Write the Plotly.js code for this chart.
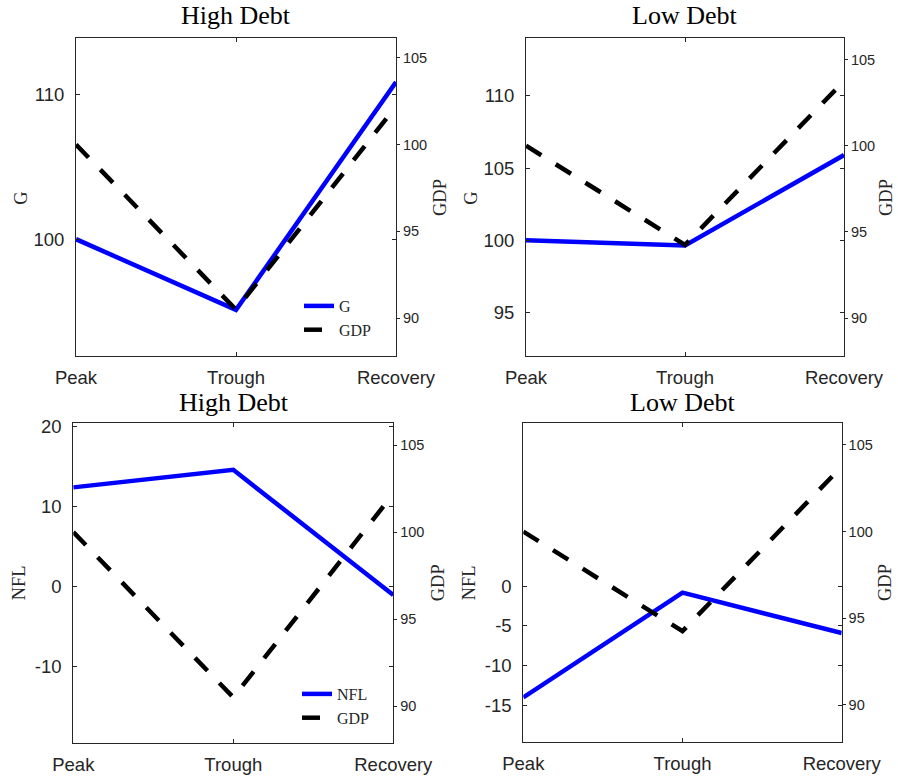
<!DOCTYPE html>
<html>
<head>
<meta charset="utf-8">
<script src="https://cdn.plot.ly/plotly-3.0.1.min.js"></script>
<style>html,body{margin:0;padding:0;background:#fff;}#chart{width:898px;height:779px;}</style>
</head>
<body>
<div id="chart"></div>
<script>
// ---- data ----
const periods = ['Peak', 'Trough', 'Recovery'];
const gHigh = [100, 95.1, 110.9];
const gLow = [100, 99.65, 105.9];
const nflHigh = [12.4, 14.6, -1.1];
const nflLow = [-14.0, -0.8, -5.9];
const gdpHigh = [100, 90.5, 102.2];
const gdpLow = [100, 94.25, 103.75];

const panelTitles = ['High Debt', 'Low Debt', 'High Debt', 'Low Debt'];
const leftTitles = ['G', 'G', 'NFL', 'NFL'];
const rightTitle = 'GDP';
const gTicksHigh = [100, 110];
const gTicksLow = [95, 100, 105, 110];
const nflTicksHigh = [20, 10, 0, -10];
const nflTicksLow = [0, -5, -10, -15];
const gdpTicks = [90, 95, 100, 105];

// ---- layout helpers ----
const W = 898, H = 779;
const px = v => v / W;
const py = v => 1 - v / H;
const BLUE = '#0000ff';
const AXC = '#262626';
const serif = '"Liberation Serif", "DejaVu Serif", serif';
const sans = '"Liberation Sans", Arial, sans-serif';

const panels = [
  {x0: 76, x1: 396, y0: 38, y1: 356, left: gHigh, gdp: gdpHigh, lt: gTicksHigh, lr: [91.9, 113.95], rr: [87.83, 106.13], legend: 'legend'},
  {x0: 526, x1: 844, y0: 38, y1: 356, left: gLow, gdp: gdpLow, lt: gTicksLow, lr: [92, 114], rr: [87.8, 106.25], legend: null},
  {x0: 73.3, x1: 393.3, y0: 423.3, y1: 742.7, left: nflHigh, gdp: gdpHigh, lt: nflTicksHigh, lr: [-19.6, 20.43], rr: [87.9, 106.25], legend: 'legend2'},
  {x0: 523.3, x1: 841.7, y0: 423.3, y1: 742, left: nflLow, gdp: gdpLow, lt: nflTicksLow, lr: [-19.6, 20.5], rr: [87.85, 106.25], legend: null}
];

const data = [];
const layout = {
  width: W, height: H,
  margin: {l: 0, r: 0, t: 0, b: 0},
  paper_bgcolor: '#fff', plot_bgcolor: 'rgba(0,0,0,0)',
  showlegend: true,
  annotations: [],
  legend: {
    x: px(299), y: py(289), xanchor: 'left', yanchor: 'top',
    bgcolor: 'rgba(0,0,0,0)', borderwidth: 0,
    font: {family: serif, size: 16, color: AXC},
    tracegroupgap: 0
  },
  legend2: {
    x: px(297), y: py(677), xanchor: 'left', yanchor: 'top',
    bgcolor: 'rgba(0,0,0,0)', borderwidth: 0,
    font: {family: serif, size: 16, color: AXC},
    tracegroupgap: 0
  }
};

const titleYs = [15, 15, 402, 402];
const titleXs = [236, 684, 233.5, 682.7];
const leftTitleX = [20.7, 470.7, 19.3, 469.3];
const rightTitleX = [440, 886, 438.3, 885];
const axTitleY = [198, 198, 583, 583];

panels.forEach((p, i) => {
  const n = i + 1;
  const xa = 'xaxis' + (n === 1 ? '' : n);
  const ya = 'yaxis' + (2 * n - 1 === 1 ? '' : 2 * n - 1);
  const yb = 'yaxis' + (2 * n);
  const xr = 'x' + (n === 1 ? '' : n);
  const yr1 = 'y' + (2 * n - 1 === 1 ? '' : 2 * n - 1);
  const yr2 = 'y' + (2 * n);

  layout[xa] = {
    domain: [px(p.x0), px(p.x1)], anchor: yr1,
    type: 'category', categoryorder: 'array', categoryarray: periods,
    range: [0, 2], showgrid: false, zeroline: false,
    showline: true, linecolor: AXC, linewidth: 1, mirror: 'ticks',
    ticks: 'inside', ticklen: 4, tickcolor: AXC,
    tickfont: {family: sans, size: 18.5, color: AXC},
    ticklabelstandoff: 5
  };
  layout[ya] = {
    domain: [py(p.y1), py(p.y0)], anchor: xr,
    range: p.lr, showgrid: false, zeroline: false,
    showline: true, linecolor: AXC, linewidth: 1, mirror: 'ticks',
    ticks: 'inside', ticklen: 4, tickcolor: AXC,
    tickmode: 'array', tickvals: p.lt, ticktext: p.lt.map(String),
    tickfont: {family: sans, size: 18.5, color: AXC},
    ticklabelstandoff: 7
  };
  layout[yb] = {
    overlaying: yr1, side: 'right', anchor: xr,
    range: p.rr, showgrid: false, zeroline: false,
    showline: true, linecolor: AXC, linewidth: 1,
    ticks: 'outside', ticklen: 3, tickcolor: AXC,
    tickmode: 'array', tickvals: gdpTicks, ticktext: gdpTicks.map(String),
    tickfont: {family: sans, size: 14.5, color: AXC},
    ticklabelstandoff: 0
  };

  data.push({
    type: 'scatter', mode: 'lines', x: periods, y: p.left,
    xaxis: xr, yaxis: yr1, name: leftTitles[i],
    line: {color: BLUE, width: 4.5},
    showlegend: !!p.legend, legend: p.legend || 'legend'
  });
  data.push({
    type: 'scatter', mode: 'lines', x: periods, y: p.gdp,
    xaxis: xr, yaxis: yr2, name: rightTitle,
    line: {color: '#000', width: 4.5, dash: '18px,17px'},
    showlegend: !!p.legend, legend: p.legend || 'legend'
  });

  layout.annotations.push({
    text: panelTitles[i], xref: 'paper', yref: 'paper',
    x: px(titleXs[i]), y: py(titleYs[i]), xanchor: 'center', yanchor: 'middle',
    showarrow: false, font: {family: serif, size: 26, color: '#000'}
  });
  layout.annotations.push({
    text: leftTitles[i], xref: 'paper', yref: 'paper',
    x: px(leftTitleX[i]), y: py(axTitleY[i]), xanchor: 'center', yanchor: 'middle',
    textangle: -90, showarrow: false, font: {family: serif, size: 18.5, color: AXC}
  });
  layout.annotations.push({
    text: rightTitle, xref: 'paper', yref: 'paper',
    x: px(rightTitleX[i]), y: py(axTitleY[i]), xanchor: 'center', yanchor: 'middle',
    textangle: -90, showarrow: false, font: {family: serif, size: 18.5, color: AXC}
  });
});

Plotly.newPlot('chart', data, layout, {displayModeBar: false, staticPlot: true});
</script>
</body>
</html>
